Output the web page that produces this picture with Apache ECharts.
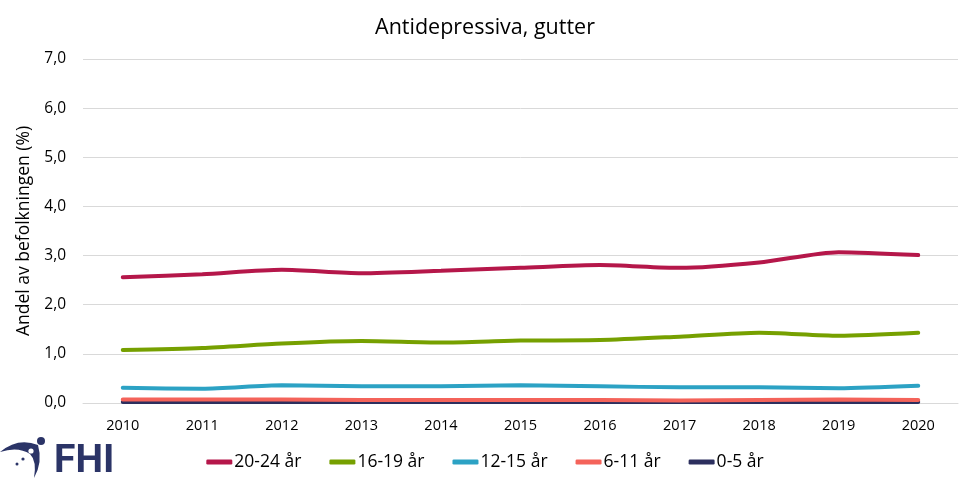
<!DOCTYPE html>
<html><head><meta charset="utf-8">
<script src="https://cdn.jsdelivr.net/npm/echarts@6/dist/echarts.min.js"></script>
<style>html,body{margin:0;padding:0;background:#fff}#c{width:970px;height:488px}</style>
</head><body><div id="c"></div>
<script>
const years = ['2010','2011','2012','2013','2014','2015','2016','2017','2018','2019','2020'];
const s2024 = [2.56, 2.62, 2.71, 2.64, 2.69, 2.75, 2.81, 2.75, 2.86, 3.07, 3.01];
const s1619 = [1.08, 1.12, 1.21, 1.26, 1.23, 1.27, 1.28, 1.35, 1.43, 1.37, 1.43];
const s1215 = [0.31, 0.29, 0.36, 0.34, 0.34, 0.36, 0.34, 0.32, 0.32, 0.30, 0.35];
const s611 = [0.07, 0.07, 0.07, 0.06, 0.06, 0.06, 0.06, 0.05, 0.06, 0.07, 0.06];
const s05 = [0.02, 0.02, 0.02, 0.02, 0.02, 0.02, 0.02, 0.02, 0.02, 0.02, 0.02];
const seriesNames = ['20-24 år','16-19 år','12-15 år','6-11 år','0-5 år'];
const colors = ['#B5174A','#76A000','#2CA2C4','#F4635A','#2C2F5E'];
const FONT = '"Open Sans", "Noto Sans", sans-serif';
const data = [s2024, s1619, s1215, s611, s05];
const logoSvg = '<svg xmlns="http://www.w3.org/2000/svg" width="48" height="44" viewBox="0 436 48 44">' +
  '<path d="M0 452 Q18 437 38 445 Q43 462 34 478 Q37 461 30 454 Q18 446 0 452 Z" fill="#2B3467"/>' +
  '<circle cx="41" cy="441" r="4" fill="#2B3467"/>' +
  '<circle cx="31" cy="451" r="2.6" fill="#fff"/>' +
  '<circle cx="23" cy="459" r="1.6" fill="#2B3467"/>' +
  '<circle cx="17" cy="464" r="1.5" fill="#2B3467"/></svg>';
const chart = echarts.init(document.getElementById('c'), null, {renderer:'canvas'});
chart.setOption({
  animation:false,
  color: colors,
  title:{text:'Antidepressiva, gutter', left:'center', top:12,
    textStyle:{fontFamily:FONT, fontSize:21.5, fontWeight:'normal', color:'#000'}},
  grid:{left:83, right:12, top:59, bottom:85},
  legend:{bottom:12, left:'center', itemWidth:26, itemHeight:5, itemGap:28,
    icon:'roundRect',
    textStyle:{fontFamily:FONT, fontSize:17.5, color:'#000', padding:[0,0,0,-3]},
    data: seriesNames},
  xAxis:{type:'category', data:years, boundaryGap:true,
    axisLine:{lineStyle:{color:'#d9d9d9', width:1}}, axisTick:{show:false},
    axisLabel:{fontFamily:FONT, fontSize:14.5, color:'#000', margin:15}},
  yAxis:{type:'value', min:0, max:7, interval:1,
    name:'Andel av befolkningen (%)', nameLocation:'middle', nameGap:47,
    nameTextStyle:{fontFamily:FONT, fontSize:17.5, color:'#000'},
    axisLine:{show:false}, axisTick:{show:false},
    splitLine:{lineStyle:{color:'#d9d9d9', width:1}},
    axisLabel:{fontFamily:FONT, fontSize:15.5, color:'#000', margin:17,
      formatter: v => v.toFixed(1).replace('.', ',')}},
  series: seriesNames.map((n,i)=>({
    name:n, type:'line', data:data[i], smooth:0.25, symbol:'none',
    lineStyle:{width:4, color:colors[i], cap:'round'}, z: 10-i
  })),
  graphic:[
    {type:'image', left:0, top:436, style:{image:'data:image/svg+xml;charset=utf-8,' + encodeURIComponent(logoSvg), width:48, height:44}},
    {type:'text', left:54, top:443, style:{text:'FHI', fill:'#2B3467',
      font:'bold 39px "Liberation Sans Narrow", Roboto, sans-serif'}}
  ]
});
</script></body></html>
